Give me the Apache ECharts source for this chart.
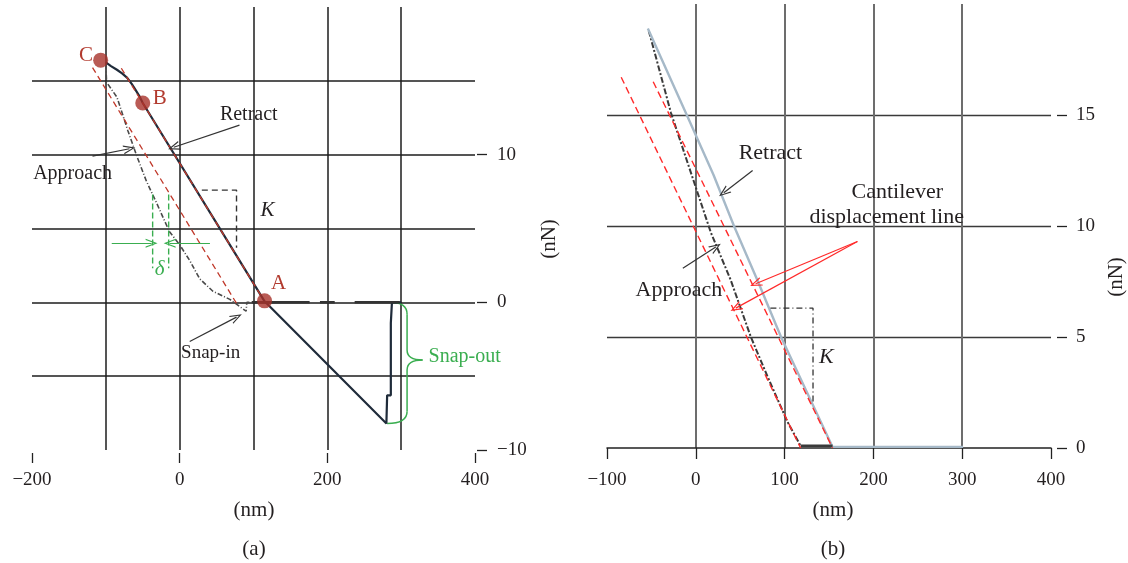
<!DOCTYPE html>
<html>
<head>
<meta charset="utf-8">
<script src="https://cdn.jsdelivr.net/npm/echarts@6/dist/echarts.min.js"></script>
<style>
html,body{margin:0;padding:0;background:#fff;}
#main{width:1128px;height:563px;}
</style>
</head>
<body>
<div id="main"></div>
<script>
var FONT = '"Liberation Serif","DejaVu Serif",serif';
var INK = '#231f20';

// ---- panel (a): x in nm, y in nN
var approachA = [[-100,16.1],[-99,14.9],[-85,13.9],[-70,11.6],[-58,9.9],[-45,8.2],[-31,6.7],[-14,4.8],[0,3.9],[14,2.8],[27,1.6],[45,0.75],[68,0.2],[90,-0.6],[91,-0.6],[91,0],[98,0]];
var retractA = [[-100,16.25],[-93,16.0],[-85,15.75],[-78,15.5],[-71,15.2],[-65,14.8],[-60,14.4],[-55,14.0],[-50,13.5],[115,0.07],[280,-8.2],[281,-6.3],[286,-6.3],[286,-1.4],[287.5,-1.4],[287.5,0],[300,0]];
var flatA = [[98,0],[176,0],[null,null],[190,0],[210,0],[null,null],[237,0],[298,0]];
var redLineA1 = [[-118,15.9],[77,-0.07]];
var redLineA2 = [[-79,15.85],[112,0.3]];
var kBoxA = [[30,7.6],[77,7.6],[77,3.7]];
var deltaA = [[-36.6,7.3],[-36.6,2.3],[null,null],[-14.9,7.3],[-14.9,2.3]];
var pointsA = [[-107,16.4],[-50,13.5],[115,0.1]];
var pointNamesA = ['C','B','A'];
var arrowsA = [[[81,12.0],[-8,10.5]],[[-118,9.9],[-68,10.4]],[[13.6,-2.65],[77,-1.0]]];
var deltaArrowsA = [[[-92,4.0],[-38,4.0]],[[41,4.0],[-13.6,4.0]]];

// ---- panel (b)
var approachB = [[-53,18.8],[-28,15.1],[2,11.5],[17,9.7],[39,7.6],[62,5.0],[81,3.2],[103,1.2],[118,0.1]];
var retractB = [[-54,18.9],[-9,14.9],[20,12.3],[43,10.0],[70,7.5],[96,5.0],[154,0.05],[301,0.05]];
var flatB = [[118,0.1],[154,0.1]];
var redLineB1 = [[-84,16.7],[118,0]];
var redLineB2 = [[-48,16.5],[154,0]];
var kBoxB = [[84,6.3],[132,6.3],[132,2.0]];
var arrowsB = [[[64,12.5],[31.5,11.5]],[[-14.6,8.1],[22.5,9.05]]];
var redArrowsB = [[[182,9.3],[67.4,7.4]],[[182,9.3],[45,6.3]]];

// tick labels
var yLabelsA = [-10,0,10];
var yLabelsB = [0,5,10,15];

var ARROW = 'path://M0,100 L50,0 L100,100 L86,100 L50,26 L14,100 Z';

function minus(v){ return String(v).replace('-', '\u2212'); }
function seg(pairs){
  return pairs.map(function(p){ return [{coord:p[0]},{coord:p[1]}]; });
}
function lineS(xi, yi, data, color, width, type, z){
  return {type:'line', xAxisIndex:xi, yAxisIndex:yi, data:data, symbol:'none', silent:true,
    connectNulls:false, z:z||2, lineStyle:{color:color, width:width, type:type||'solid'}};
}
function arrowS(xi, yi, pairs, color){
  return {type:'line', xAxisIndex:xi, yAxisIndex:yi, data:[], z:4,
    markLine:{silent:true, animation:false, symbol:['none', ARROW], symbolSize:[9,12],
      label:{show:false}, lineStyle:{color:color, width:1.2, type:'solid'}, data:seg(pairs)}};
}

var tickFont = {fontFamily:FONT, fontSize:19, color:INK};

var chart = echarts.init(document.getElementById('main'));
var option = {
  animation:false,
  backgroundColor:'#fff',
  grid:[
    {left:32, top:7, width:443, height:443},
    {left:607, top:4, width:444, height:444}
  ],
  xAxis:[
    {gridIndex:0, type:'value', min:-200, max:400, interval:100, position:'top',
      axisLine:{show:false}, axisTick:{show:false}, axisLabel:{show:false},
      splitLine:{show:true, showMinLine:false, showMaxLine:false, lineStyle:{color:'#1c1c1c', width:1.5}}},
    {gridIndex:0, type:'value', min:-200, max:400, interval:200, position:'bottom', offset:3,
      axisLine:{show:false, onZero:false},
      axisTick:{show:true, length:10, lineStyle:{color:'#222', width:1.3}},
      axisLabel:Object.assign({margin:18, formatter:minus}, tickFont),
      splitLine:{show:false}},
    {gridIndex:1, type:'value', min:-100, max:400, interval:100, position:'bottom',
      axisLine:{show:true, onZero:false, lineStyle:{color:'#222', width:1.5}},
      axisTick:{show:true, length:11, lineStyle:{color:'#222', width:1.3}},
      axisLabel:Object.assign({margin:23, formatter:minus}, tickFont),
      splitLine:{show:true, showMinLine:false, showMaxLine:false, lineStyle:{color:'#6d6d6d', width:2}}}
  ],
  yAxis:[
    {gridIndex:0, type:'value', min:-10, max:20, interval:5, position:'left',
      axisLine:{show:false}, axisTick:{show:false}, axisLabel:{show:false},
      splitLine:{show:true, showMinLine:false, showMaxLine:false, lineStyle:{color:'#1c1c1c', width:1.5}}},
    {gridIndex:0, type:'value', min:-10, max:20, interval:5, position:'right', offset:2,
      axisLine:{show:false, onZero:false},
      axisTick:{show:true, length:10, customValues:yLabelsA, lineStyle:{color:'#222', width:1.3}},
      axisLabel:Object.assign({margin:20, customValues:yLabelsA, formatter:minus}, tickFont),
      splitLine:{show:false}},
    {gridIndex:1, type:'value', min:0, max:20, interval:5, position:'left',
      axisLine:{show:false}, axisTick:{show:false}, axisLabel:{show:false},
      splitLine:{show:true, showMinLine:false, showMaxLine:false, lineStyle:{color:'#3a3a3a', width:1.3}}},
    {gridIndex:1, type:'value', min:0, max:20, interval:5, position:'right', offset:6,
      axisLine:{show:false, onZero:false},
      axisTick:{show:true, length:10, customValues:yLabelsB, lineStyle:{color:'#222', width:1.3}},
      axisLabel:Object.assign({margin:19, customValues:yLabelsB}, tickFont),
      splitLine:{show:false}}
  ],
  series:[
    lineS(0,0,approachA,'#4a4a4a',1.6,[5,2,1,2]),
    lineS(0,0,retractA,'#1f2b3a',2.2),
    lineS(0,0,flatA,'#333',2.5),
    lineS(0,0,redLineA1,'#c0392b',1.3,[6,4],3),
    lineS(0,0,redLineA2,'#c0392b',1.3,[6,4],3),
    lineS(0,0,kBoxA,'#333',1.4,[6,4]),
    lineS(0,0,deltaA,'#3aae50',1.4,[6,3]),
    {type:'scatter', xAxisIndex:0, yAxisIndex:0, data:pointsA, symbolSize:15, z:5, silent:true,
      itemStyle:{color:'#a8322a'}},
    arrowS(0,0,arrowsA,'#333'),
    arrowS(0,0,deltaArrowsA,'#3aae50'),
    lineS(2,2,approachB,'#3a3a3a',2,[6,2,2,2]),
    lineS(2,2,retractB,'#a6b9c8',2.4),
    lineS(2,2,flatB,'#3a3a3a',2.5),
    lineS(2,2,redLineB1,'#ff2a2a',1.4,[7,4],3),
    lineS(2,2,redLineB2,'#ff2a2a',1.4,[7,4],3),
    lineS(2,2,kBoxB,'#333',1.3,[6,3,1,3]),
    arrowS(2,2,arrowsB,'#333'),
    arrowS(2,2,redArrowsB,'#ff2a2a')
  ]
};
chart.setOption(option);

// annotations placed through the series' own coordinate systems
function px(si, p){ return chart.convertToPixel({seriesIndex:si}, p); }
function txt(si, p, text, color, size, italic){
  var q = px(si, p);
  return {type:'text', x:q[0], y:q[1], silent:true, z:10,
    style:{text:text, fill:color, font:(italic ? 'italic ' : '') + size + 'px ' + FONT,
      align:'center', verticalAlign:'middle', textAlign:'center', textVerticalAlign:'middle'}};
}
function fixed(x, y, text, rot){
  return {type:'text', x:x, y:y, rotation:rot||0, silent:true,
    style:{text:text, fill:INK, font:'21px ' + FONT,
      align:'center', verticalAlign:'middle', textAlign:'center', textVerticalAlign:'middle'}};
}

var g = [];
// panel (a) labels
g.push(txt(0,[93.6,12.7],'Retract',INK,20));
g.push(txt(0,[-145,8.7],'Approach',INK,20));
g.push(txt(0,[42,-3.45],'Snap-in',INK,19));
g.push(txt(0,[119,6.2],'K',INK,21,true));
g.push(txt(0,[-27,2.2],'\u03b4','#3aae50',21,true));
g.push(txt(0,[386,-3.7],'Snap-out','#3aae50',20));
var letterPos = [[-127,16.7],[-27,13.8],[134,1.3]];
for (var i = 0; i < pointNamesA.length; i++) {
  g.push(txt(0, letterPos[i], pointNamesA[i], '#b23a2e', 21));
}
// brace for snap-out
var top0 = px(0,[285,0]), bot0 = px(0,[281,-8.2]);
var colX = px(0,[308,0])[0], tipX = px(0,[329,0])[0], midY = px(0,[0,-3.9])[1];
var bs = {stroke:'#3aae50', lineWidth:1.5, fill:null};
g.push({type:'bezierCurve', silent:true, shape:{x1:top0[0], y1:top0[1], x2:colX, y2:top0[1]+12, cpx1:colX, cpy1:top0[1]}, style:bs});
g.push({type:'line', silent:true, shape:{x1:colX, y1:top0[1]+12, x2:colX, y2:midY-10}, style:bs});
g.push({type:'bezierCurve', silent:true, shape:{x1:colX, y1:midY-10, x2:tipX, y2:midY, cpx1:colX, cpy1:midY}, style:bs});
g.push({type:'bezierCurve', silent:true, shape:{x1:tipX, y1:midY, x2:colX, y2:midY+10, cpx1:colX, cpy1:midY}, style:bs});
g.push({type:'line', silent:true, shape:{x1:colX, y1:midY+10, x2:colX, y2:bot0[1]-12}, style:bs});
g.push({type:'bezierCurve', silent:true, shape:{x1:colX, y1:bot0[1]-12, x2:bot0[0], y2:bot0[1], cpx1:colX, cpy1:bot0[1]}, style:bs});

// panel (b) labels
g.push(txt(10,[84,13.3],'Retract',INK,22));
g.push(txt(10,[-19,7.1],'Approach',INK,22));
g.push(txt(10,[227,11.5],'Cantilever',INK,22));
g.push(txt(10,[215,10.4],'displacement line',INK,22));
g.push(txt(10,[147,4.1],'K',INK,22,true));

// axis names and panel tags
g.push(fixed(254,510,'(nm)'));
g.push(fixed(254,549,'(a)'));
g.push(fixed(549,239,'(nN)',Math.PI/2));
g.push(fixed(833,510,'(nm)'));
g.push(fixed(833,549,'(b)'));
g.push(fixed(1116,277,'(nN)',Math.PI/2));

chart.setOption({graphic:{elements:g}});
</script>
</body>
</html>
